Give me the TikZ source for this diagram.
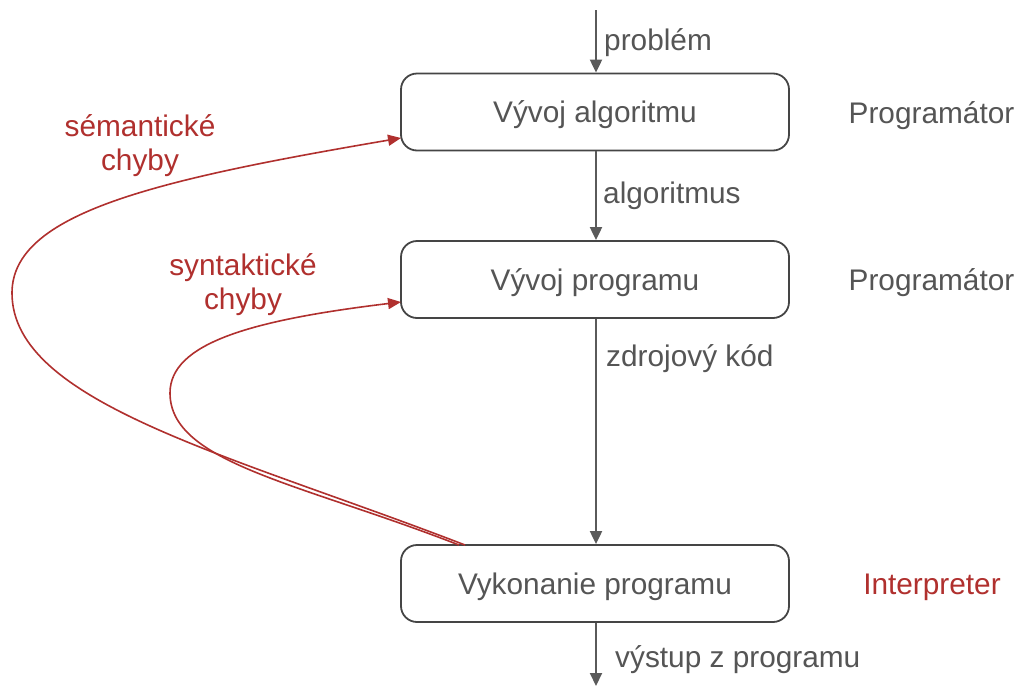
\documentclass[tikz,border=0pt]{standalone}
\usepackage{fontspec}
\setmainfont{Liberation Sans}
\usetikzlibrary{arrows.meta}
\definecolor{txtgray}{HTML}{555555}
\definecolor{linegray}{HTML}{5A5A5A}
\definecolor{boxgray}{HTML}{454545}
\definecolor{errred}{HTML}{B0302E}
\tikzset{
  box/.style={draw=boxgray, line width=1.8pt, rounded corners=16pt, minimum width=388pt, minimum height=77pt, inner sep=0pt, text=txtgray, text height=23pt, text depth=2pt, font=\fontsize{29.8}{35}\selectfont},
  lbl/.style={text=txtgray, font=\fontsize{29.8}{35}\selectfont, inner sep=0pt},
  redlbl/.style={text=errred, font=\fontsize{29.8}{34}\selectfont, inner sep=0pt, align=center},
  flow/.style={draw=linegray, line width=2pt, -{Triangle[length=13pt,width=12pt]}},
  back/.style={draw=errred, line width=1.6pt, -{Triangle[length=13pt,width=11pt]}}
}
\begin{document}
\begin{tikzpicture}[x=1pt,y=-1pt]
\useasboundingbox (0,0) rectangle (1021,686);
\node[box] (b1) at (595,112) {Vývoj algoritmu};
\node[box] (b2) at (595,279.5) {Vývoj programu};
\node[box] (b3) at (595,583.5) {Vykonanie programu};
\coordinate (in) at (596,10);
\coordinate (out) at (596,686);
\draw[flow] (in) -- (in |- b1.north);
\draw[flow] (b1.south -| 596,0) -- (b2.north -| 596,0);
\draw[flow] (b2.south -| 596,0) -- (b3.north -| 596,0);
\draw[flow] (b3.south -| 596,0) -- (out);
\node[lbl, anchor=west] (lp) at (604,43) {problém};
\node[lbl, anchor=west] (la) at (603,196) {algoritmus};
\node[lbl, anchor=west] (lz) at (606,359) {zdrojový kód};
\node[lbl, anchor=west] (lv) at (615,660) {výstup z programu};
\node[lbl] (r1) at (931.5,116) {Programátor};
\node[lbl] (r2) at (931.5,283) {Programátor};
\node[redlbl] (r3) at (932,587) {Interpreter};
\node[redlbl] (sem) at (140,146) {sémantické\\chyby};
\node[redlbl] (syn) at (243,285) {syntaktické\\chyby};
\coordinate (s1) at (465,545);
\coordinate (s2) at (459,545);
\coordinate (e1) at (401,138);
\coordinate (e2) at (401,302);
\draw[back] (s1) .. controls (232,455) and (12,403) .. (12,293)
  .. controls (12,213) and (155,180) .. (e1);
\draw[back] (s2) .. controls (300,483) and (170,463) .. (170,393)
  .. controls (170,343) and (252,320) .. (e2);
\end{tikzpicture}
\end{document}
